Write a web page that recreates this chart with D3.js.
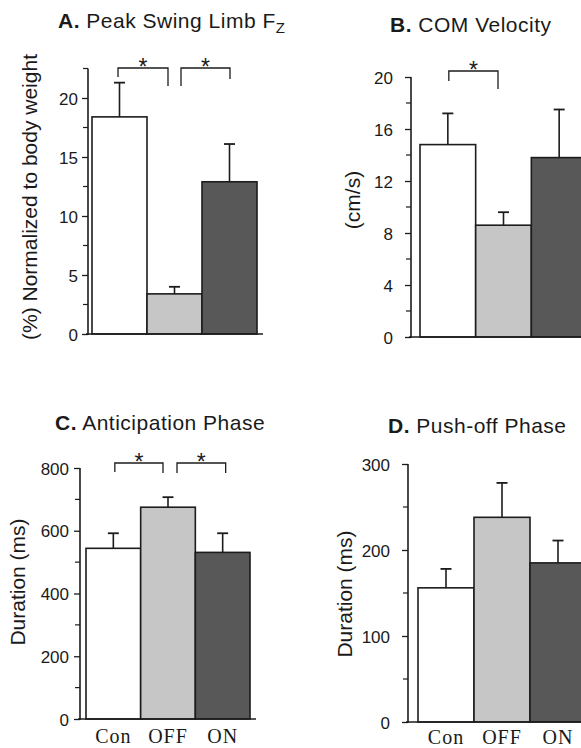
<!DOCTYPE html>
<html>
<head>
<meta charset="utf-8">
<script src="https://cdn.jsdelivr.net/npm/d3@7"></script>
<style>
  html, body { margin: 0; padding: 0; background: #fff; }
  svg { display: block; }
  .sans { font-family: "Liberation Sans", Arial, Helvetica, sans-serif; fill: #1a1a1a; }
  .serif { font-family: "Liberation Serif", "Times New Roman", serif; fill: #1a1a1a; }
</style>
</head>
<body>
<svg id="fig" width="581" height="748"></svg>
<script>
// Groups compared in every panel
const categories = ["Con", "OFF", "ON"];
const groupFills = ["#ffffff", "#c6c6c6", "#585858"];

// A. Peak swing limb Fz, % of body weight (mean, SD)
const peakFzMean = [18.4, 3.4, 12.9];
const peakFzSD = [2.9, 0.6, 3.2];
const peakFzTicks = [0, 5, 10, 15, 20];
const peakFzSig = [[0, 1], [1, 2]];

// B. COM velocity, cm/s
const comVelMean = [14.8, 8.6, 13.8];
const comVelSD = [2.4, 1.0, 3.7];
const comVelTicks = [0, 4, 8, 12, 16, 20];
const comVelSig = [[0, 1]];

// C. Anticipation phase duration, ms
const anticipMean = [544, 675, 531];
const anticipSD = [48, 32, 61];
const anticipTicks = [0, 200, 400, 600, 800];
const anticipSig = [[0, 1], [1, 2]];

// D. Push-off phase duration, ms
const pushoffMean = [156, 238, 185];
const pushoffSD = [22, 40, 26];
const pushoffTicks = [0, 100, 200, 300];
const pushoffSig = [];

const svg = d3.select("#fig");
const ink = "#1c1c1c";

function drawPanel(p) {
  const g = svg.append("g");
  const y = d3.scaleLinear().domain([0, p.max]).range([p.baseY, p.topY]);
  const x = d3.scaleBand().domain(categories).range(p.barRange).padding(0);
  const axisTop = y(p.axisMax);

  // title
  const t = g.append("text").attr("class", "sans")
    .attr("x", p.titleX).attr("y", p.titleY)
    .style("font-size", "21px")
    .style("letter-spacing", "0.5px");
  t.append("tspan").style("font-weight", "bold").text(p.letter + ".");
  t.append("tspan").text(" " + p.title);
  if (p.sub) {
    t.append("tspan").attr("dy", 5).style("font-size", "15px").text(p.sub);
  }

  // bars
  g.selectAll("rect.bar").data(p.mean).enter().append("rect")
    .attr("class", "bar")
    .attr("x", (d, i) => x(categories[i]))
    .attr("width", x.bandwidth())
    .attr("y", d => y(d))
    .attr("height", d => y(0) - y(d))
    .attr("fill", (d, i) => groupFills[i])
    .attr("stroke", ink).attr("stroke-width", 1.6);

  // error bars (upper only)
  p.mean.forEach((m, i) => {
    const cx = x(categories[i]) + x.bandwidth() / 2;
    const top = y(m + p.sd[i]);
    g.append("line").attr("x1", cx).attr("x2", cx)
      .attr("y1", y(m)).attr("y2", top)
      .attr("stroke", ink).attr("stroke-width", 1.6);
    g.append("line").attr("x1", cx - 5.5).attr("x2", cx + 5.5)
      .attr("y1", top).attr("y2", top)
      .attr("stroke", ink).attr("stroke-width", 1.8);
  });

  // y axis with outward major and minor ticks
  const axis = d3.axisLeft(y).tickValues(p.ticks).tickSize(6).tickPadding(p.pad)
    .tickFormat(d3.format("d"));
  const ax = g.append("g").attr("transform", `translate(${p.axisX},0)`).call(axis);
  ax.select(".domain").remove();
  ax.selectAll(".tick line").attr("stroke", ink).attr("stroke-width", 1.3);
  ax.selectAll(".tick text").attr("class", "sans")
    .style("font-size", "17px").attr("fill", ink).attr("dy", "0.36em");
  g.append("line").attr("x1", p.axisX).attr("x2", p.axisX)
    .attr("y1", axisTop).attr("y2", y(0) + 1)
    .attr("stroke", ink).attr("stroke-width", 1.6);
  g.selectAll("line.minor").data(p.minor).enter().append("line")
    .attr("class", "minor")
    .attr("x1", p.axisX - 5).attr("x2", p.axisX)
    .attr("y1", d => y(d)).attr("y2", d => y(d))
    .attr("stroke", ink).attr("stroke-width", 1.2);

  // baseline
  g.append("line").attr("x1", p.axisX - 2).attr("x2", p.barRange[1] + 6)
    .attr("y1", y(0)).attr("y2", y(0))
    .attr("stroke", ink).attr("stroke-width", 1.6);

  // y label
  g.append("text").attr("class", "sans")
    .attr("transform", `translate(${p.labelX},${p.labelY}) rotate(-90)`)
    .attr("text-anchor", "middle")
    .style("font-size", "21px")
    .text(p.ylabel);

  // category labels
  if (p.showCats) {
    g.selectAll("text.cat").data(categories).enter().append("text")
      .attr("class", "serif")
      .attr("x", d => x(d) + x.bandwidth() / 2)
      .attr("y", p.catY)
      .attr("text-anchor", "middle")
      .style("font-size", "20px")
      .style("letter-spacing", "1px")
      .text(d => d);
  }

  // significance brackets
  p.sig.forEach(([a, b], k) => {
    const ca = x(categories[a]) + x.bandwidth() / 2;
    const cb = x(categories[b]) + x.bandwidth() / 2;
    const x1 = k === 0 ? ca + p.brk.first[0] : ca + p.brk.second[0];
    const x2 = k === 0 ? cb + p.brk.first[1] : cb + p.brk.second[1];
    const legs = p.brk.legs[k];
    const yt = p.brk.top;
    g.append("path")
      .attr("d", `M${x1},${yt + legs[0]}V${yt}H${x2}V${yt + legs[1]}`)
      .attr("fill", "none").attr("stroke", ink).attr("stroke-width", 1.3);
    g.append("text").attr("class", "sans")
      .attr("x", (x1 + x2) / 2).attr("y", yt + 7)
      .attr("text-anchor", "middle")
      .style("font-size", "23px")
      .text("*");
  });
}

drawPanel({
  letter: "A", title: "Peak Swing Limb F", sub: "Z", titleX: 58, titleY: 28,
  mean: peakFzMean, sd: peakFzSD, ticks: peakFzTicks,
  minor: [2.5, 7.5, 12.5, 17.5, 22.5],
  max: 20, axisMax: 22.5, baseY: 334, topY: 98, axisX: 88, pad: 4,
  barRange: [92, 257],
  ylabel: "(%) Normalized to body weight", labelX: 37, labelY: 197,
  sig: peakFzSig,
  brk: { top: 68, first: [-1.5, -6.5], second: [6.5, 0.5], legs: [[9, 18], [18, 11]] },
  showCats: false
});

drawPanel({
  letter: "B", title: "COM Velocity", titleX: 390, titleY: 32,
  mean: comVelMean, sd: comVelSD, ticks: comVelTicks,
  minor: [2, 6, 10, 14, 18],
  max: 20, axisMax: 20, baseY: 337, topY: 77, axisX: 411, pad: 12,
  barRange: [420, 587],
  ylabel: "(cm/s)", labelX: 360, labelY: 200,
  sig: comVelSig,
  brk: { top: 71, first: [1, -5.5], second: [0, 0], legs: [[10, 18]] },
  showCats: false
});

drawPanel({
  letter: "C", title: "Anticipation Phase", titleX: 55, titleY: 430,
  mean: anticipMean, sd: anticipSD, ticks: anticipTicks,
  minor: [100, 300, 500, 700],
  max: 800, axisMax: 800, baseY: 719, topY: 468, axisX: 80, pad: 5,
  barRange: [86, 250],
  ylabel: "Duration (ms)", labelX: 25, labelY: 582,
  sig: anticipSig,
  brk: { top: 463, first: [1.5, -5], second: [9, 3], legs: [[9, 10], [10, 10]] },
  showCats: true, catY: 743
});

drawPanel({
  letter: "D", title: "Push-off Phase", titleX: 388, titleY: 433,
  mean: pushoffMean, sd: pushoffSD, ticks: pushoffTicks,
  minor: [50, 150, 250],
  max: 300, axisMax: 300, baseY: 722, topY: 464, axisX: 408, pad: 12,
  barRange: [418, 586],
  ylabel: "Duration (ms)", labelX: 352, labelY: 594,
  sig: pushoffSig,
  brk: { top: 0, first: [0, 0], second: [0, 0], legs: [] },
  showCats: true, catY: 744
});
</script>
</body>
</html>
